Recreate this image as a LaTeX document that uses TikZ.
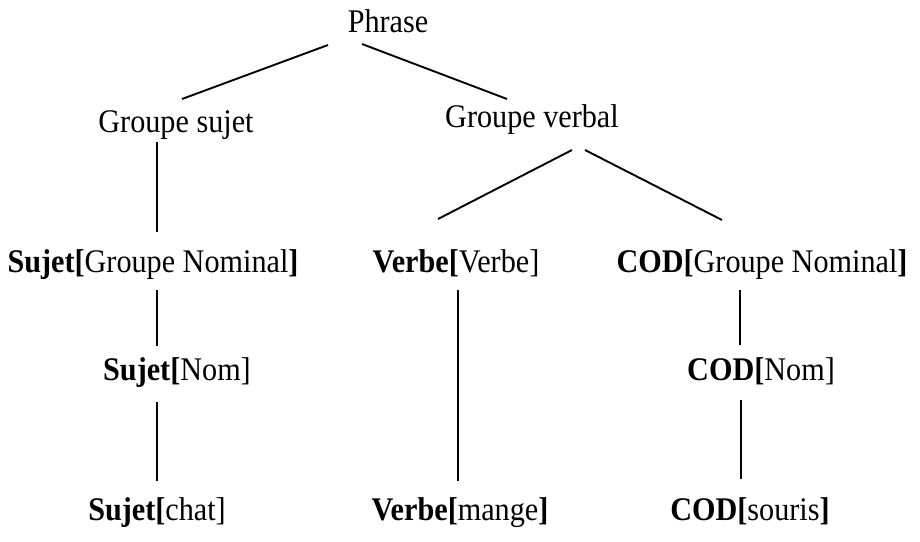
\documentclass[tikz,border=0pt]{standalone}
\usepackage{fontspec}
\setmainfont{Liberation Serif}
% slightly condensed label text
\newcommand{\cond}[1]{\scalebox{0.915}[1]{#1}}
\begin{document}
\begin{tikzpicture}[x=1pt,y=-1pt,
  lbl/.style={anchor=base,inner sep=0pt,font=\fontsize{33}{38}\selectfont},
  edge/.style={line width=1.9pt,line cap=butt}]
\useasboundingbox (0,0) rectangle (920,541);

% labels of the tree
\node[lbl] (phrase) at (388,32) {\cond{Phrase}};
\node[lbl] (gsujet) at (176,132) {\cond{Groupe sujet}};
\node[lbl] (gverbal) at (532,127) {\cond{Groupe verbal}};

\node[lbl] (sgn) at (153,272) {\cond{\textbf{Sujet[}Groupe Nominal\textbf{]}}};
\node[lbl] (vv) at (456,272) {\cond{\textbf{Verbe[}Verbe]}};
\node[lbl] (cgn) at (762,272) {\cond{\textbf{COD[}Groupe Nominal\textbf{]}}};

\node[lbl] (snom) at (177,380) {\cond{\textbf{Sujet[}Nom]}};
\node[lbl] (cnom) at (761,380) {\cond{\textbf{COD[}Nom]}};

\node[lbl] (schat) at (157,520) {\cond{\textbf{Sujet[}chat]}};
\node[lbl] (vmange) at (460,520) {\cond{\textbf{Verbe[}mange\textbf{]}}};
\node[lbl] (csouris) at (750,520) {\cond{\textbf{COD[}souris\textbf{]}}};

% end points of the branches
\coordinate (ph-l) at (328,45);   \coordinate (gs-t) at (182,99);
\coordinate (ph-r) at (362,44);   \coordinate (gv-t) at (507,99);
\coordinate (gv-l) at (572,150);  \coordinate (vv-t) at (438,219);
\coordinate (gv-r) at (585,150);  \coordinate (cgn-t) at (722,220);

\coordinate (gs-b) at (157,142);  \coordinate (sgn-t) at (157,232);
\coordinate (sgn-b) at (157,290); \coordinate (snom-t) at (157,346);
\coordinate (snom-b) at (157,402);\coordinate (schat-t) at (157,481);

\coordinate (vv-b) at (458,290);  \coordinate (vm-t) at (458,481);

\coordinate (cgn-b) at (740,290); \coordinate (cnom-t) at (740,345);
\coordinate (cnom-b) at (741,400);\coordinate (cs-t) at (741,479);

% branches
\draw[edge] (ph-l) -- (gs-t);
\draw[edge] (ph-r) -- (gv-t);
\draw[edge] (gv-l) -- (vv-t);
\draw[edge] (gv-r) -- (cgn-t);
\draw[edge] (gs-b) -- (sgn-t);
\draw[edge] (sgn-b) -- (snom-t);
\draw[edge] (snom-b) -- (schat-t);
\draw[edge] (vv-b) -- (vm-t);
\draw[edge] (cgn-b) -- (cnom-t);
\draw[edge] (cnom-b) -- (cs-t);
\end{tikzpicture}
\end{document}
